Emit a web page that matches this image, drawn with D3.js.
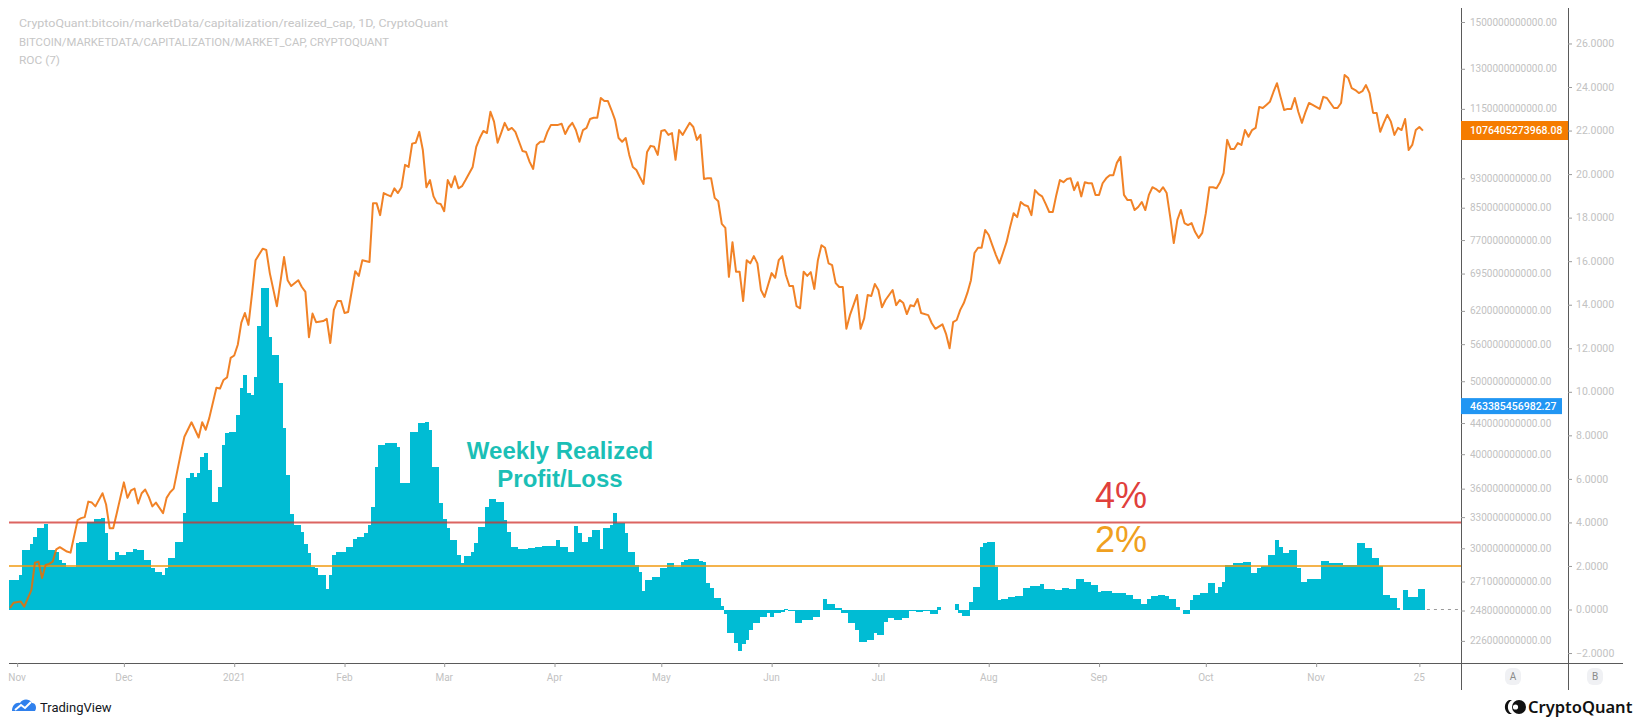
<!DOCTYPE html>
<html><head><meta charset="utf-8">
<script src="https://cdn.jsdelivr.net/npm/d3@7"></script>
<style>
html,body{margin:0;padding:0;background:#fff;}
svg{display:block;}
</style></head><body>
<svg id="chart" width="1635" height="726"></svg>
<script>
// ---------------- DATA ----------------
const startDate = "2020-10-30";
// market cap (billions USD), sampled by day offset from startDate
const capDays = [0,1,3,4,6,7,8,9,10,11,12,13,14,16,17,19,20,21,22,23,24,26,27,28,29,30,32,33,34,35,36,37,38,39,40,41,43,44,45,46,48,49,51,52,53,54,55,56,58,59,60,61,62,63,64,65,66,67,68,69,71,72,73,75,77,78,79,81,82,83,84,85,86,88,89,90,91,92,93,94,95,97,98,99,101,102,103,104,105,106,107,108,109,110,111,112,113,114,115,116,117,118,119,120,121,122,123,124,125,126,127,128,130,131,132,133,134,135,136,137,138,139,140,141,142,144,145,146,147,148,149,150,151,152,154,155,156,157,158,159,160,161,162,163,164,165,166,167,168,169,170,171,172,173,174,175,176,177,178,179,180,181,182,183,184,185,186,187,188,189,190,191,192,193,194,195,196,197,198,199,200,201,202,203,204,205,206,207,208,209,210,211,212,213,214,215,216,217,218,219,220,221,222,223,224,225,226,227,228,229,230,231,232,233,234,235,236,237,238,239,240,241,242,243,244,245,246,248,249,250,251,252,253,254,255,256,258,259,260,262,263,264,265,266,267,268,269,270,271,272,273,274,275,276,277,278,279,280,281,282,283,284,285,286,287,288,289,290,291,292,293,294,295,296,297,298,299,300,301,302,303,304,305,306,307,308,309,310,311,312,313,314,315,316,317,318,319,320,321,322,323,324,325,326,327,328,329,330,331,332,333,334,335,336,337,338,339,340,341,342,343,344,345,346,347,348,349,350,351,352,353,354,355,356,357,358,359,360,361,362,363,364,365,366,367,368,369,370,371,372,373,374,375,376,377,378,379,380,381,382,383,384,385,386,387,388,389,390,391,392,393,394,395,396,397];
const capValues = [250,254,255,251,264,287,288,274,285,286,288,299,301,297,296,327,329,330,346,345,341,355,343,319,319,334,367,350,358,360,344,355,359,351,341,345,334,350,356,360,401,422,441,431,421,441,431,447,490,489,502,506,537,541,559,598,616,594,653,724,750,747,696,629,731,681,669,681,667,657,572,615,599,601,605,562,622,639,639,616,618,700,690,724,720,862,862,831,889,884,880,902,889,905,969,963,1034,1037,1072,1014,905,925,880,862,860,841,925,905,936,902,908,925,963,1024,1052,1075,1068,1140,1106,1037,1068,1102,1078,1085,1072,1011,1008,978,957,1030,1040,1040,1072,1095,1095,1099,1065,1088,1102,1078,1040,1078,1085,1115,1119,1119,1189,1178,1178,1146,1112,1052,1040,1052,999,963,954,933,914,1008,1027,1024,999,1075,1078,1062,1068,984,1078,1062,1082,1102,1088,1046,1062,928,930,930,876,867,809,799,688,765,699,699,639,724,717,733,717,661,647,671,696,686,724,733,692,669,669,629,625,699,690,698,663,724,758,752,717,713,675,667,667,587,612,631,651,587,606,651,649,673,661,627,641,661,631,641,635,614,631,629,643,616,612,597,587,595,578,553,599,603,622,635,655,681,740,752,752,794,782,758,736,717,740,765,801,836,826,865,857,854,831,897,886,880,860,839,839,884,925,919,928,930,897,919,880,919,916,916,884,884,916,930,939,939,975,993,884,870,870,844,852,865,844,884,905,900,892,905,889,826,763,819,844,811,806,811,789,775,787,836,905,905,902,919,945,1046,1017,1017,1036,1030,1078,1056,1078,1085,1157,1153,1164,1175,1211,1244,1193,1146,1150,1150,1189,1139,1102,1139,1171,1164,1157,1150,1193,1189,1171,1153,1153,1171,1276,1264,1225,1218,1207,1214,1237,1207,1136,1136,1072,1102,1129,1106,1062,1085,1078,1115,1014,1030,1078,1088,1076];
// ROC(7) of realized cap, percent, one value per day from startDate
const rocValues = [
1.36,1.36,1.36,1.58,2.73,2.73,3.0,3.33,3.74,3.74,
3.93,2.73,2.73,2.64,2.27,2.13,1.95,1.95,1.95,3.05,
3.1,3.1,4.02,4.02,4.16,4.16,4.2,3.5,2.27,2.27,
2.64,2.5,2.5,2.64,2.64,2.8,2.73,2.73,2.27,2.27,
1.9,1.72,1.72,1.58,1.9,2.37,2.37,3.1,3.1,4.43,
6.04,6.27,6.09,6.27,7.0,7.19,6.4,4.94,4.94,5.63,
7.55,8.1,8.16,8.16,8.94,10.18,10.77,9.94,9.86,10.68,
13.0,14.75,14.75,12.5,11.7,11.7,10.4,8.34,6.18,4.4,
3.88,3.88,3.57,3.0,2.6,1.95,1.9,1.58,1.58,0.94,
1.58,2.5,2.66,2.66,2.66,2.89,2.89,3.24,3.35,3.35,
3.5,3.88,4.72,6.56,7.56,7.56,7.66,7.66,7.66,7.48,
5.81,5.81,5.81,8.17,8.17,8.58,8.58,8.63,8.25,6.56,
6.56,4.89,4.16,3.74,3.19,3.19,2.5,2.14,2.46,2.46,
2.66,3.05,3.8,3.8,4.72,5.07,5.07,4.95,4.95,4.11,
3.57,2.89,2.89,2.78,2.78,2.78,2.82,2.82,2.89,2.89,
2.93,2.93,2.93,2.93,3.19,2.89,2.89,2.66,2.66,3.84,
3.5,3.11,3.11,3.35,3.65,3.65,2.78,3.74,3.74,3.88,
4.43,3.97,3.97,3.5,2.66,2.66,2.04,1.74,0.86,1.35,
1.35,1.5,1.5,1.9,1.9,2.14,2.14,1.97,1.97,2.2,
2.27,2.32,2.32,2.32,2.24,2.2,1.2,0.99,0.53,0.53,
0.16,-0.2,-1.09,-1.09,-1.55,-1.89,-1.6,-1.4,-0.94,-0.63,
-0.63,-0.33,-0.33,-0.18,-0.36,-0.18,-0.18,-0.1,0.01,-0.05,
-0.05,-0.6,-0.6,-0.48,-0.48,-0.48,-0.33,-0.33,0.0,0.47,
0.25,0.25,0.05,0.05,-0.18,-0.18,-0.6,-0.6,-0.94,-1.48,
-1.48,-1.4,-1.4,-1.09,-1.17,-1.17,-0.56,-0.41,-0.41,-0.48,
-0.48,-0.41,-0.41,-0.05,-0.05,-0.1,-0.1,-0.05,-0.05,-0.22,
-0.22,0.1,0.0,0.0,0.0,0.0,0.25,-0.18,-0.3,-0.3,
0.36,1.05,1.05,2.89,3.07,3.09,3.09,1.97,0.44,0.47,
0.47,0.56,0.56,0.62,0.62,0.97,0.97,1.08,1.08,1.08,
1.17,0.93,0.93,0.93,0.9,0.9,0.97,0.97,0.93,0.93,
1.39,1.39,1.28,1.28,1.13,1.13,0.82,0.86,0.86,0.86,
0.77,0.77,0.77,0.77,0.67,0.67,0.47,0.47,0.25,0.25,
0.47,0.62,0.62,0.67,0.67,0.62,0.47,0.47,0.13,0.0,
-0.2,-0.2,0.44,0.67,0.67,0.74,0.74,1.23,1.23,0.74,
1.05,1.28,2.04,2.04,2.12,2.12,2.12,2.2,2.2,1.66,
1.66,1.89,2.0,2.0,2.5,2.5,3.19,2.89,2.58,2.58,
2.73,2.73,1.89,1.28,1.28,1.39,1.39,1.39,1.39,2.24,
2.24,2.15,2.15,2.15,2.15,2.04,2.04,2.04,2.04,3.07,
3.07,2.81,2.81,2.35,2.35,2.0,0.67,0.67,0.51,0.51,
0.05,0.0,0.9,0.59,0.59,0.59,0.93,0.93];

const capTicks = [1500,1300,1150,930,850,770,695,620,560,500,440,400,360,330,300,271,248,226]; // billions
const rocTicks = [-2,0,2,4,6,8,10,12,14,16,18,20,22,24,26];
const timeTickDates = ["2020-11-01","2020-12-01","2021-01-01","2021-02-01","2021-03-01","2021-04-01","2021-05-01","2021-06-01","2021-07-01","2021-08-01","2021-09-01","2021-10-01","2021-11-01","2021-11-30"];
const timeTickLabels = ["Nov","Dec","2021","Feb","Mar","Apr","May","Jun","Jul","Aug","Sep","Oct","Nov","25"];
const levelValues = [4, 2];
const levelLabels = ["4%", "2%"];
const lastCapLabel = "1076405273968.08";
const lastCapValue = 1076.405273968;     // billions
const lastRealizedLabel = "463385456982.27";
const lastRealizedValue = 463.385456982; // billions
const legendLines = [
  "CryptoQuant:bitcoin/marketData/capitalization/realized_cap, 1D, CryptoQuant",
  "BITCOIN/MARKETDATA/CAPITALIZATION/MARKET_CAP, CRYPTOQUANT",
  "ROC (7)"
];
const legendWidths = [429, 370, 41];
const titleLines = ["Weekly Realized", "Profit/Loss"];

// ---------------- LAYOUT ----------------
const svg = d3.select("#chart");
const plotL = 9, plotR = 1461, plotB = 663, plotT = 0;
const axisBx = 1568;
const pxPerDay = 3.559;
const FONT = "Roboto, 'Liberation Sans', Arial, sans-serif";

const parseDate = d3.utcParse("%Y-%m-%d");
const t0 = parseDate(startDate);
const lastDay = rocValues.length - 1;
const dayDate = d => d3.utcDay.offset(t0, d);

const x = d3.scaleUtc().domain([t0, dayDate(lastDay)]).range([10, 10 + lastDay * pxPerDay]);
const yCap = d3.scaleLog().domain([1500, 226]).range([22, 640.9]);
const pxPerPct = 21.77;
const yRoc = d3.scaleLinear().domain([-2, 26]).range([609.5 + 2 * pxPerPct, 609.5 - 26 * pxPerPct]);

svg.append("rect").attr("width", 1635).attr("height", 726).attr("fill", "#fff");

svg.append("defs").append("clipPath").attr("id", "plotclip")
  .append("rect").attr("x", plotL).attr("y", plotT).attr("width", plotR - plotL).attr("height", plotB - plotT);

const plot = svg.append("g").attr("clip-path", "url(#plotclip)");

// histogram
const bw = x(dayDate(1)) - x(dayDate(0));
plot.append("g").selectAll("rect").data(rocValues).join("rect")
  .attr("x", (v, i) => x(dayDate(i)) - bw / 2)
  .attr("width", bw + 0.6)
  .attr("y", v => Math.min(yRoc(v), yRoc(0)))
  .attr("height", v => Math.max(0.5, Math.abs(yRoc(v) - yRoc(0))))
  .attr("fill", "#00BCD4")
  .attr("shape-rendering", "crispEdges");

// level lines
const levelColors = ["#d0302c", "#f09a10"];
plot.append("g").selectAll("line").data(levelValues).join("line")
  .attr("x1", plotL).attr("x2", plotR)
  .attr("y1", v => yRoc(v)).attr("y2", v => yRoc(v))
  .attr("stroke", (v, i) => levelColors[i]).attr("stroke-width", 2).attr("stroke-opacity", 0.75);

// market cap line
const capData = capDays.map((d, i) => ({date: dayDate(d), v: capValues[i]}));
plot.append("path").datum(capData)
  .attr("fill", "none").attr("stroke", "#ef6c00").attr("stroke-width", 2)
  .attr("stroke-opacity", 0.85).attr("stroke-linejoin", "round")
  .attr("d", d3.line().x(d => x(d.date)).y(d => yCap(d.v)));

// dashed zero continuation
svg.append("line").attr("x1", x(dayDate(lastDay)) + 4).attr("x2", plotR - 2)
  .attr("y1", yRoc(0)).attr("y2", yRoc(0))
  .attr("stroke", "#9a9a9a").attr("stroke-width", 1).attr("stroke-dasharray", "3,4");

// annotations
svg.append("g").selectAll("text").data(levelLabels).join("text")
  .attr("x", 1121).attr("y", (d, i) => yRoc(levelValues[i]) - 14)
  .attr("text-anchor", "middle").attr("font-family", "'Liberation Sans', Arial, sans-serif")
  .attr("font-size", 36).attr("fill", (d, i) => i === 0 ? "#e0403c" : "#f0a020")
  .text(d => d);

svg.append("g").selectAll("text").data(titleLines).join("text")
  .attr("x", 560).attr("y", (d, i) => 458.5 + i * 28.5)
  .attr("text-anchor", "middle").attr("font-family", "'Liberation Sans', Arial, sans-serif")
  .attr("font-weight", "bold").attr("font-size", 24).attr("fill", "#1bbfb6")
  .text(d => d);

// legend
svg.append("g").selectAll("text").data(legendLines).join("text")
  .attr("x", 19).attr("y", (d, i) => 27 + i * 18.5)
  .attr("font-family", FONT).attr("font-size", 11.5).attr("fill", "#c6c6c6")
  .attr("textLength", (d, i) => legendWidths[i]).attr("lengthAdjust", "spacingAndGlyphs")
  .text(d => d);

// axes lines
const axisColor = "#5a5a5a";
svg.append("line").attr("x1", plotL).attr("x2", 1623).attr("y1", plotB + 0.5).attr("y2", plotB + 0.5)
  .attr("stroke", axisColor).attr("stroke-width", 1);
[plotR, axisBx].forEach(ax => {
  svg.append("line").attr("x1", ax + 0.5).attr("x2", ax + 0.5).attr("y1", 8).attr("y2", 690)
    .attr("stroke", axisColor).attr("stroke-width", 1);
});

const tickText = "#c2c2c2";
// axis A (market cap, log)
const gA = svg.append("g");
gA.selectAll("line").data(capTicks).join("line")
  .attr("x1", plotR).attr("x2", plotR + 4).attr("y1", d => yCap(d) + 0.5).attr("y2", d => yCap(d) + 0.5)
  .attr("stroke", "#9a9a9a");
gA.selectAll("text").data(capTicks).join("text")
  .attr("x", plotR + 9).attr("y", d => yCap(d)).attr("dy", "0.35em")
  .attr("font-family", FONT).attr("font-size", 10).attr("fill", tickText)
  .text(d => (d * 1e9).toFixed(2));

// axis B (ROC, linear)
const gB = svg.append("g");
gB.selectAll("line").data(rocTicks).join("line")
  .attr("x1", axisBx).attr("x2", axisBx + 4).attr("y1", d => yRoc(d) + 0.5).attr("y2", d => yRoc(d) + 0.5)
  .attr("stroke", "#9a9a9a");
gB.selectAll("text").data(rocTicks).join("text")
  .attr("x", axisBx + 8).attr("y", d => yRoc(d)).attr("dy", "0.35em")
  .attr("font-family", FONT).attr("font-size", 10.5).attr("fill", tickText)
  .text(d => d3.format(".4f")(d).replace("-", "\u2212"));

// value labels on axis A
function valueTag(val, label, color, h, w) {
  const yy = yCap(val);
  const g = svg.append("g");
  g.append("rect").attr("x", plotR).attr("y", yy - h / 2).attr("width", w).attr("height", h)
    .attr("fill", color);
  g.append("text").attr("x", plotR + 9).attr("y", yy).attr("dy", "0.35em")
    .attr("font-family", FONT).attr("font-size", 10.5).attr("font-weight", 500).attr("fill", "#fff")
    .text(label);
}
valueTag(lastCapValue, lastCapLabel, "#f57c00", 19, axisBx - plotR);
valueTag(lastRealizedValue, lastRealizedLabel, "#2196f3", 16, 101);

// time axis
const tickDates = timeTickDates.map(parseDate);
const gT = svg.append("g");
gT.selectAll("line").data(tickDates).join("line")
  .attr("x1", d => x(d) + 0.5).attr("x2", d => x(d) + 0.5).attr("y1", plotB).attr("y2", plotB + 4)
  .attr("stroke", "#9a9a9a");
gT.selectAll("text").data(tickDates).join("text")
  .attr("x", d => x(d)).attr("y", 681)
  .attr("text-anchor", "middle").attr("font-family", FONT).attr("font-size", 10).attr("fill", tickText)
  .text((d, i) => timeTickLabels[i]);

// A / B pane buttons
[["A", 1513], ["B", 1595]].forEach(([t, cx]) => {
  svg.append("rect").attr("x", cx - 8).attr("y", 668).attr("width", 16).attr("height", 17).attr("rx", 6)
    .attr("fill", "#f0f1f4");
  svg.append("text").attr("x", cx).attr("y", 680).attr("text-anchor", "middle")
    .attr("font-family", FONT).attr("font-size", 10).attr("fill", "#8a8a8a").text(t);
});

// TradingView branding
const tv = svg.append("g").attr("transform", "translate(12,699)");
tv.append("path").attr("d", "M0,12 C0,6 4,3 8,4 C10,0 17,-1 20,4 C24,4 25,9 23,12 Z").attr("fill", "#2f80ed");
tv.append("path").attr("d", "M3,11 L9,6 L13,9 L19,3").attr("fill", "none").attr("stroke", "#fff").attr("stroke-width", 2);
svg.append("text").attr("x", 40).attr("y", 712).attr("font-family", FONT).attr("font-size", 13)
  .attr("fill", "#131722").text("TradingView");

// CryptoQuant branding
const cq = svg.append("g").attr("transform", "translate(1505,707)");
cq.append("path").attr("d", "M4,-7 A8,8 0 0 0 4,7 L7,7 A8,8 0 0 1 7,-7 Z").attr("fill", "#111");
cq.append("circle").attr("cx", 14).attr("cy", 0).attr("r", 7).attr("fill", "#111");
cq.append("circle").attr("cx", 10.5).attr("cy", 0).attr("r", 2.6).attr("fill", "#fff");
svg.append("text").attr("x", 1528).attr("y", 713).attr("font-family", "'Noto Sans', 'Open Sans', sans-serif")
  .attr("font-weight", 600).attr("font-size", 16.5).attr("fill", "#111").text("CryptoQuant");
</script>
</body></html>
